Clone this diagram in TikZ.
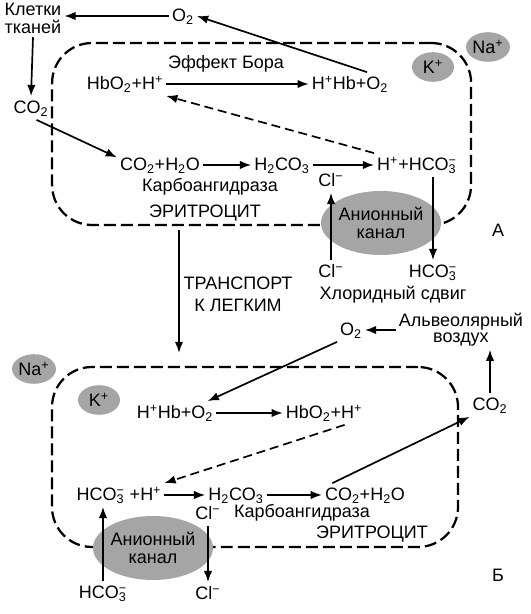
\documentclass[tikz,border=0pt]{standalone}
\usepackage{fontspec}
\setmainfont{Liberation Sans}
\usepackage{tikz}
\usetikzlibrary{arrows.meta,positioning,shapes.geometric}
\definecolor{iongrey}{RGB}{165,165,165}
\newcommand{\hcoion}{HCO\rlap{\textsubscript{3}}\textsuperscript{−}}
\newcommand{\clion}{Cl\textsuperscript{−}}

\begin{document}
\begin{tikzpicture}[
  every node/.style={font=\fontsize{12.8}{13.5}\selectfont},
  chem/.style={inner sep=2pt, text height=10.5pt, text depth=2pt},
  lbl/.style={align=center, inner sep=2pt},
  ion/.style={ellipse, fill=iongrey, minimum width=1.05cm, minimum height=0.74cm, inner sep=0pt},
  chan/.style={ellipse, fill=iongrey, minimum width=2.5cm, minimum height=1.6cm, inner sep=0pt, align=center,
               font=\fontsize{12.8}{12.8}\selectfont},
  cell/.style={draw, dash pattern=on 8.5pt off 3.6pt, line width=1.6pt, rounded corners=1cm},
  wire/.style={line width=1.2pt},
  arr/.style={wire, -{Latex[length=8pt,width=6pt]}},
  darr/.style={arr, dash pattern=on 6.4pt off 3.5pt}
]
\useasboundingbox (0,0) rectangle (13.275,15.35);

% ---- A: tissues ----
\node[cell, minimum width=10.475cm, minimum height=4.55cm] (cellA) at (6.54,12.0) {};
\node[chan] (chanA) at (9.525,9.775) {Анионный\\канал};
\node[ion] (naA) at (12.2,14.175) {Na\textsuperscript{+}};
\node[ion] (kA)  at (10.825,13.675) {K\textsuperscript{+}};

\node[lbl]  (cells)   at (0.825,14.89)  {Клетки\\тканей};
\node[chem] (o2A)     at (4.575,14.95)  {O\textsubscript{2}};
\node[chem] (co2L)    at (0.775,12.65)  {CO\textsubscript{2}};
\node[chem] (hbo2A)   at (3.125,13.25)  {HbO\textsubscript{2}+H\textsuperscript{+}};
\node[chem] (hhbA)    at (8.75,13.25)   {H\textsuperscript{+}Hb+O\textsubscript{2}};
\node       (bohr)    at (5.65,13.75)   {Эффект Бора};
\node[chem] (co2h2oA) at (4.0,11.225)   {CO\textsubscript{2}+H\textsubscript{2}O};
\node[chem] (h2co3A)  at (7.05,11.225)  {H\textsubscript{2}CO\textsubscript{3}};
\node[chem] (hhcoA)   at (10.425,11.225) {H\textsuperscript{+}+\hcoion};
\node       (carbA)   at (5.25,10.675)  {Карбоангидраза};
\node       (eritA)   at (5.125,10.025) {ЭРИТРОЦИТ};
\node[chem] (clAt)    at (8.275,10.825) {\clion};
\node[chem] (clAb)    at (8.275,8.55)   {\clion};
\node[chem] (hcoAb)   at (10.825,8.55)  {\hcoion};
\node       (chlor)   at (9.825,7.975)  {Хлоридный сдвиг};
\node       (labA)    at (12.45,9.6)    {А};

\draw[arr] (o2A.west) -- (o2A.west -| cells.east);
\draw[arr] (hhbA.35) -- (o2A.east);
\draw[arr] (cells.south) -- (co2L.north);
\draw[arr] (co2L.-65) -- (co2h2oA.170);
\draw[arr] (hbo2A.east) -- (hhbA.west);
\draw[arr] (co2h2oA.east) -- (h2co3A.west);
\draw[arr] (h2co3A.east) -- (hhcoA.west);
\draw[darr] (hhcoA.north west) -- (hbo2A.south east);
\draw[arr] (clAb.north) -- (clAt.south);
\draw[arr] (hcoAb.north |- hhcoA.south) -- (hcoAb.north);

% ---- transport to the lungs ----
\node[lbl, font=\fontsize{12.8}{15.6}\selectfont] (trans) at (5.95,8.0) {ТРАНСПОРТ\\К ЛЕГКИМ};
\coordinate (trtop) at (4.475,9.6);
\coordinate (trbot) at (4.475,6.525);
\draw[arr] (trtop) -- (trbot);

% ---- Б: lungs ----
\node[cell, minimum width=10.15cm, minimum height=4.5cm] (cellB) at (6.375,3.925) {};
\node[chan] (chanB) at (3.825,1.65) {Анионный\\канал};
\node[ion] (naB) at (0.85,6.125) {Na\textsuperscript{+}};
\node[ion] (kB)  at (2.475,5.35) {K\textsuperscript{+}};

\node[lbl, font=\fontsize{12.8}{11.5}\selectfont] (alv) at (11.525,7.1) {Альвеолярный\\воздух};
\node[chem] (o2B)     at (8.775,7.1)   {O\textsubscript{2}};
\node[chem] (co2R)    at (12.25,5.225) {CO\textsubscript{2}};
\node[chem] (hhbB)    at (4.375,5.025) {H\textsuperscript{+}Hb+O\textsubscript{2}};
\node[chem] (hbo2B)   at (8.1,5.025)   {HbO\textsubscript{2}+H\textsuperscript{+}};
\node[chem] (hcohB)   at (2.975,2.975) {\hcoion{} +H\textsuperscript{+}};
\node[chem] (h2co3B)  at (5.9,2.975)   {H\textsubscript{2}CO\textsubscript{3}};
\node[chem] (co2h2oB) at (9.125,2.975) {CO\textsubscript{2}+H\textsubscript{2}O};
\node[chem] (clBt)    at (5.2,2.5)     {\clion};
\node       (carbB)   at (7.55,2.525)  {Карбоангидраза};
\node       (eritB)   at (9.3,2.0)     {ЭРИТРОЦИТ};
\node[chem] (hcoBb)   at (2.575,0.525) {\hcoion};
\node[chem] (clBb)    at (5.2,0.5)     {\clion};
\node       (labB)    at (12.45,0.975) {Б};

\draw[arr] (alv.west |- o2B.east) -- (o2B.east);
\draw[arr] (co2R.north) -- (co2R.north |- alv.south);
\draw[arr] (o2B.south west) -- (hhbB.20);
\draw[arr] (hhbB.east) -- (hbo2B.west);
\draw[darr] (hbo2B.-30) -- (hcohB.north east);
\draw[arr] (hcohB.east) -- (h2co3B.west);
\draw[arr] (h2co3B.east) -- (co2h2oB.west);
\draw[arr] (co2h2oB.160) -- (co2R.south west);
\draw[arr] (hcoBb.north) -- (hcoBb.north |- hcohB.south);
\draw[arr] (clBt.south) -- (clBb.north);

\end{tikzpicture}
\end{document}
